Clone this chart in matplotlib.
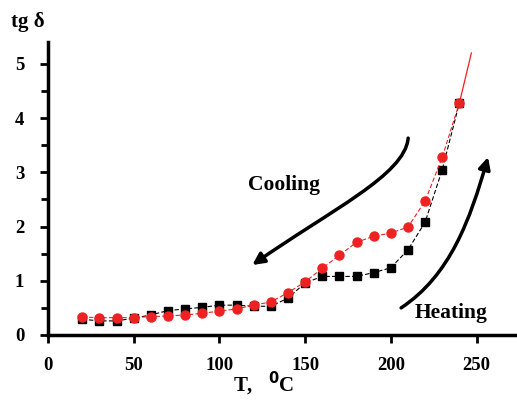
import matplotlib.pyplot as plt
from matplotlib.patches import FancyArrowPatch
from matplotlib.path import Path
from matplotlib.ticker import MultipleLocator

plt.rcParams["font.family"] = ["Liberation Serif", "DejaVu Serif"]
plt.rcParams["font.weight"] = "bold"

temps = [20, 30, 40, 50, 60, 70, 80, 90, 100, 110, 120, 130,
         140, 150, 160, 170, 180, 190, 200, 210, 220, 230, 240]
heating = [0.29, 0.26, 0.26, 0.31, 0.37, 0.45, 0.48, 0.51, 0.55, 0.55, 0.53, 0.53,
           0.68, 0.96, 1.08, 1.08, 1.08, 1.15, 1.24, 1.57, 2.08, 3.05, 4.28]
cooling = [0.33, 0.32, 0.32, 0.32, 0.34, 0.35, 0.37, 0.40, 0.44, 0.48, 0.55, 0.61,
           0.78, 0.98, 1.23, 1.47, 1.71, 1.82, 1.88, 1.99, 2.47, 3.28, 4.28]
# cooling run starts above the top point, only the line is visible there
cooling_start_t = [240, 247]
cooling_start_v = [4.28, 5.2]

fig = plt.figure(figsize=(5.17, 4.01), dpi=100)
ax = fig.add_axes([0.0928, 0.1646, 0.9072, 0.7304])

red = "#ee2222"
ax.plot(temps, heating, color="black", linestyle=(0, (4, 2)), linewidth=0.8,
        marker="s", markersize=6, zorder=3)
ax.plot(cooling_start_t, cooling_start_v, color=red, linewidth=0.9, zorder=2)
ax.plot(temps, cooling, color=red, linestyle=(0, (4, 2)), linewidth=0.8,
        marker="o", markersize=6.5, markeredgecolor=red, zorder=4)

ax.set_xlim(0, 273.6)
ax.set_ylim(0, 5.4)
ax.xaxis.set_major_locator(MultipleLocator(50))
ax.yaxis.set_major_locator(MultipleLocator(1))
ax.yaxis.set_minor_locator(MultipleLocator(0.5))

for side in ["top", "right"]:
    ax.spines[side].set_visible(False)
for side in ["left", "bottom"]:
    ax.spines[side].set_linewidth(2.5)
ax.tick_params(which="major", length=6, width=2, labelsize=13.5, pad=10)
ax.tick_params(which="minor", length=5, width=2)
ax.tick_params(axis="y", pad=11)
for lab in ax.get_xticklabels() + ax.get_yticklabels():
    lab.set_fontweight("bold")

fig.text(0.022, 0.945, "tg δ", fontsize=15, fontweight="bold", va="center")
fig.text(0.51, 0.042, "T,   $^{\\mathbf{0}}$C", fontsize=15, fontweight="bold",
         ha="center", va="center")

ax.text(116.8, 2.76, "Cooling", fontsize=15.5, fontweight="bold", va="center")
ax.text(214.2, 0.41, "Heating", fontsize=15.5, fontweight="bold", va="center")

cool_path = Path([(210.1, 3.63), (208.3, 2.95), (164.6, 2.30), (119.2, 1.29)],
                 [Path.MOVETO, Path.CURVE4, Path.CURVE4, Path.CURVE4])
heat_path = Path([(206.0, 0.50), (234.6, 1.10), (246.2, 2.12), (256.7, 3.28)],
                 [Path.MOVETO, Path.CURVE4, Path.CURVE4, Path.CURVE4])
for p in [cool_path, heat_path]:
    arr = FancyArrowPatch(path=p, arrowstyle="-|>,head_length=7,head_width=3.5",
                          color="black", linewidth=2.5, zorder=5)
    ax.add_patch(arr)

fig.savefig("out.png", dpi=100)
